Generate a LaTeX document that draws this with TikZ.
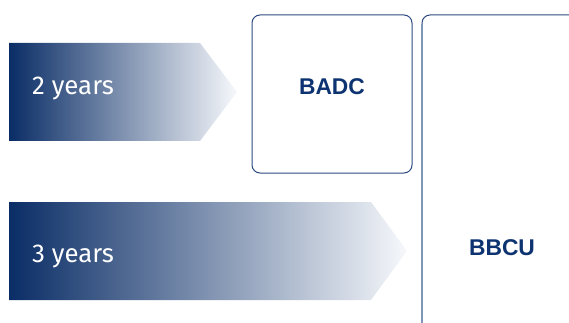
\documentclass[tikz,border=0pt]{standalone}
\usepackage{fontspec}
\setmainfont{Liberation Sans}
\newfontfamily\yearfont{Fira Sans}
\definecolor{navy}{HTML}{0A2D66}
\definecolor{pale}{HTML}{F6F8FB}
\definecolor{boxline}{HTML}{2B4A80}
\definecolor{sideline}{HTML}{7F95B5}
\definecolor{labelblue}{HTML}{0D3370}
\tikzset{
  arrowshade/.style={left color=navy, right color=pale},
  yeartext/.style={text=white, font=\yearfont\fontsize{25.8}{26}\selectfont, anchor=base west, inner sep=0pt},
  boxtext/.style={text=labelblue, font=\bfseries\fontsize{22.8}{23}\selectfont, inner sep=0pt},
  roundbox/.style={draw=boxline, line width=1pt, rounded corners=8pt}
}
\begin{document}
\begin{tikzpicture}[x=1pt,y=-1pt]
\useasboundingbox (0,0) rectangle (569,323);
% arrows
\shade[arrowshade] (9,43) -- (200,43) -- (237,92) -- (200,141) -- (9,141) -- cycle;
\shade[arrowshade] (9,202) -- (371,202) -- (407,251) -- (371,300) -- (9,300) -- cycle;
\node[yeartext] (y2) at (32,95) {2 years};
\node[yeartext] (y3) at (32,262) {3 years};
% BADC box
\draw[roundbox] (252,15) rectangle (412,173);
\node[boxtext] (badc) at (332,87) {BADC};
% BBCU box (clipped)
\begin{scope}
\clip (0,0) rectangle (569,323);
\draw[draw=boxline, line width=1pt, rounded corners=8pt] (422,330) -- (422,15) -- (600,15);
\draw[draw=sideline, line width=1.6pt] (422,24) -- (422,330);
\end{scope}
\node[boxtext] (bbcu) at (502,248) {BBCU};
\end{tikzpicture}
\end{document}
